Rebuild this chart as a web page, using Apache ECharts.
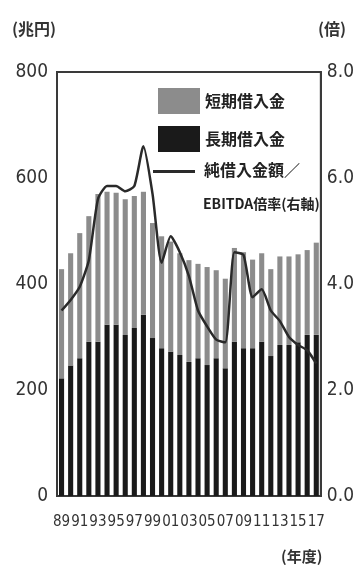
<!DOCTYPE html>
<html><head><meta charset="utf-8">
<script src="https://cdn.jsdelivr.net/npm/echarts@6/dist/echarts.min.js"></script>
<style>html,body{margin:0;padding:0;background:#fff}#c{width:357px;height:583px}</style>
</head><body><div id="c"></div>
<script>
const years = ['89','90','91','92','93','94','95','96','97','98','99','00','01','02','03','04','05','06','07','08','09','10','11','12','13','14','15','16','17'];
const totalDebt = [428,458,496,528,570,574,572,560,566,574,515,490,480,458,445,438,432,426,410,468,460,446,458,428,452,452,456,464,478];
const longTerm = [222,246,260,291,291,323,323,304,317,342,298,279,272,266,253,260,247,260,241,291,279,279,291,264,285,285,290,304,304];
const netDebtEbitda = [3.5,3.7,3.95,4.45,5.6,5.85,5.85,5.75,5.85,6.6,5.7,4.4,4.9,4.6,4.15,3.5,3.2,2.95,2.9,4.6,4.55,3.75,3.9,3.5,3.3,3.0,2.85,2.75,2.5];
const leftTicks = [0,800,200];
const rightTicks = [0,8,2];
const shortTerm = totalDebt.map((t,i)=>t-longTerm[i]);

const NUM = '"Liberation Sans Narrow","DejaVu Sans Condensed",sans-serif';
const JP = '"Noto Sans CJK JP",sans-serif';
const chart = echarts.init(document.getElementById('c'));
chart.setOption({
  animation:false,
  grid:{left:57,right:33,top:72,bottom:87,show:true,borderColor:'#3a3a3a',borderWidth:2,backgroundColor:'transparent'},
  legend:{
    orient:'vertical',left:153,top:83,itemWidth:42,itemHeight:26,itemGap:12,
    textStyle:{fontFamily:JP,fontSize:16,fontWeight:'bold',color:'#222'},
    data:[{name:'短期借入金',icon:'rect'},{name:'長期借入金',icon:'rect'}]
  },
  xAxis:{type:'category',data:years,boundaryGap:true,
    axisLine:{show:true,lineStyle:{color:'#3a3a3a',width:2}},axisTick:{show:false},
    axisLabel:{interval:1,margin:19,fontFamily:NUM,fontSize:15,color:'#333'}},
  yAxis:[
    {type:'value',min:leftTicks[0],max:leftTicks[1],interval:leftTicks[2],splitLine:{show:false},
     axisLine:{show:true,lineStyle:{color:'#3a3a3a',width:2}},axisTick:{show:false},
     axisLabel:{margin:9,fontFamily:NUM,fontSize:19,color:'#333'}},
    {type:'value',min:rightTicks[0],max:rightTicks[1],interval:rightTicks[2],splitLine:{show:false},
     axisLine:{show:true,lineStyle:{color:'#3a3a3a',width:2}},axisTick:{show:false},
     axisLabel:{margin:6,fontFamily:NUM,fontSize:19,color:'#333',formatter:v=>v.toFixed(1)}}
  ],
  graphic:[
    {type:'text',left:12,top:21,style:{text:'(兆円)',font:'bold 16px "Noto Sans CJK JP"',fill:'#333'}},
    {type:'text',left:318,top:21,style:{text:'(倍)',font:'bold 16px "Noto Sans CJK JP"',fill:'#333'}},
    {type:'text',left:281,top:549,style:{text:'(年度)',font:'bold 15px "Noto Sans CJK JP"',fill:'#333'}},
    {type:'rect',left:153,top:170,shape:{width:42,height:3},style:{fill:'#2a2a2a'}},
    {type:'text',left:204,top:162,style:{text:'純借入金額／',font:'bold 16px "Noto Sans CJK JP"',fill:'#222'}},
    {type:'text',left:203,top:197,style:{text:'EBITDA倍率(右軸)',font:'bold 14px "Noto Sans CJK JP"',fill:'#222'}}
  ],
  series:[
    {name:'長期借入金',type:'bar',stack:'d',data:longTerm,barWidth:'56%',itemStyle:{color:'#1a1a1a'}},
    {name:'短期借入金',type:'bar',stack:'d',data:shortTerm,barWidth:'56%',itemStyle:{color:'#8c8c8c'}},
    {name:'純借入金額／EBITDA倍率(右軸)',type:'line',yAxisIndex:1,data:netDebtEbitda,symbol:'none',smooth:0.2,
     lineStyle:{color:'#2a2a2a',width:2.5},itemStyle:{color:'#2a2a2a'},z:5}
  ]
});
</script></body></html>
